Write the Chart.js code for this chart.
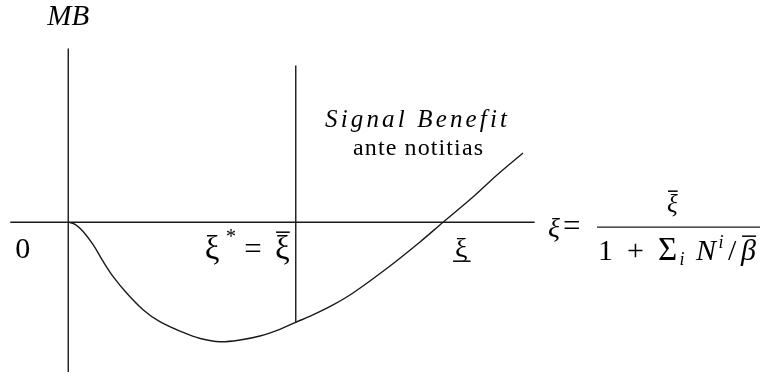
<!DOCTYPE html>
<html>
<head>
<meta charset="utf-8">
<script src="https://cdn.jsdelivr.net/npm/chart.js@4"></script>
<style>
  html, body { margin: 0; padding: 0; background: #fff; }
  #chart { display: block; }
</style>
</head>
<body>
<canvas id="chart" width="765" height="376"></canvas>

<script>
  // curve: marginal benefit against the signal precision xi
  const xiValues = [0, 0.12, 0.265, 0.44, 0.616, 0.79, 1.03, 1.32, 1.61, 2.02, 2.32, 2.67, 3.02, 3.37, 3.72, 4.0, 4.30, 4.655, 5.006, 5.657, 6.184, 6.59, 7.116, 7.538, 7.995];
  const mbValues = [0, -0.037, -0.167, -0.40, -0.693, -0.956, -1.248, -1.541, -1.747, -1.936, -2.041, -2.098, -2.068, -1.998, -1.88, -1.757, -1.629, -1.453, -1.243, -0.769, -0.348, 0, 0.442, 0.829, 1.215];

  // axes and the xi-bar marker
  const xAxisX = [-1.02, 8.2];
  const xAxisY = [0, 0];
  const yAxisX = [0, 0];
  const yAxisY = [3.05, -2.63];
  const xiBar = 4.0;
  const xiBarY = [2.75, -1.757];

  const toPoints = (xs, ys) => xs.map((x, i) => ({ x: x, y: ys[i] }));
  const ink = '#1a1a1a';
  const SERIF = '"Liberation Serif", "Times New Roman", serif';

  function lineSet(points, tension) {
    return {
      data: points,
      borderColor: ink,
      borderWidth: 1.4,
      pointRadius: 0,
      tension: tension || 0,
      fill: false
    };
  }

  // one piece per character, with room between them
  function spaced(text, font, gap) {
    return text.split('').map((c, i) => ({ t: c, font: font, gap: i ? gap : 0 }));
  }

  // draws a run of text pieces; spare width goes into the gaps (no stretching)
  function drawRun(ctx, x, base, width, pieces) {
    ctx.save();
    let total = 0;
    let gapSum = 0;
    pieces.forEach((p) => {
      ctx.font = p.font + ' ' + SERIF;
      p.w = ctx.measureText(p.t).width;
      total += (p.gap || 0) + p.w;
      gapSum += p.gap || 0;
    });
    const k = gapSum > 0 ? (width - total) / gapSum : 0;
    ctx.fillStyle = '#000';
    ctx.strokeStyle = '#000';
    ctx.lineWidth = 1.5;
    let cx = x;
    pieces.forEach((p) => {
      cx += (p.gap || 0) * (1 + k);
      ctx.font = p.font + ' ' + SERIF;
      ctx.fillText(p.t, cx, base + (p.dy || 0));
      if (p.over != null) {
        ctx.beginPath();
        ctx.moveTo(cx + 1, base + p.over);
        ctx.lineTo(cx + p.w, base + p.over);
        ctx.stroke();
      }
      if (p.under != null) {
        ctx.beginPath();
        ctx.moveTo(cx - 2, base + p.under);
        ctx.lineTo(cx + p.w + 3, base + p.under);
        ctx.stroke();
      }
      cx += p.w;
    });
    ctx.restore();
  }

  const labelPlugin = {
    id: 'diagramLabels',
    afterDraw(chart) {
      const ctx = chart.ctx;
      const ox = chart.scales.x.getPixelForValue(0);
      const oy = chart.scales.y.getPixelForValue(0);
      const bx = chart.scales.x.getPixelForValue(xiBar);

      drawRun(ctx, ox - 21, 25, 44, [{ t: 'MB', font: 'italic 29px' }]);
      drawRun(ctx, ox - 53, oy + 36, 17, [{ t: '0', font: '30px' }]);

      drawRun(ctx, bx - 91, oy + 37, 85, [
        { t: 'ξ', font: '33px' },
        { t: '*', font: '20px', gap: 4, dy: -16 },
        { t: '=', font: '31px', gap: 5 },
        { t: 'ξ', font: '33px', gap: 8, over: -27 }
      ]);
      drawRun(ctx, chart.scales.x.getPixelForValue(6.59) + 12, oy + 35, 16, [
        { t: 'ξ', font: '28px', under: 4 }
      ]);

      drawRun(ctx, 325, 127, 182, spaced('Signal Benefit', 'italic 25px', 2));
      drawRun(ctx, 353, 155, 130, spaced('ante notitias', '24px', 1));

      // xi = xi-bar / (1 + sum_i N^i / beta-bar)
      drawRun(ctx, 548, oy + 15, 12, [{ t: 'ξ', font: 'italic 28px' }]);
      drawRun(ctx, 563, oy + 14, 20, [{ t: '=', font: '31px' }]);
      drawRun(ctx, 667, oy - 10, 16, [{ t: 'ξ', font: 'italic 25px', over: -21 }]);
      ctx.save();
      ctx.strokeStyle = ink;
      ctx.lineWidth = 1.3;
      ctx.beginPath();
      ctx.moveTo(597, oy + 5);
      ctx.lineTo(760, oy + 5);
      ctx.stroke();
      ctx.restore();
      drawRun(ctx, 598, oy + 38, 158, [
        { t: '1', font: '30px' },
        { t: '+', font: '30px', gap: 6 },
        { t: 'Σ', font: '33px', gap: 6 },
        { t: 'i', font: 'italic 18px', gap: 1, dy: 5 },
        { t: 'N', font: 'italic 30px', gap: 5 },
        { t: 'i', font: 'italic 18px', gap: 1, dy: -12 },
        { t: '/', font: '30px', gap: 2 },
        { t: 'β', font: 'italic 30px', gap: 2, over: -24 }
      ]);
    }
  };

  new Chart(document.getElementById('chart').getContext('2d'), {
    type: 'line',
    data: {
      datasets: [
        lineSet(toPoints(xAxisX, xAxisY)),
        lineSet(toPoints(yAxisX, yAxisY)),
        lineSet(toPoints([xiBar, xiBar], xiBarY)),
        lineSet(toPoints(xiValues, mbValues), 0.35)
      ]
    },
    options: {
      responsive: false,
      animation: false,
      layout: { padding: 0 },
      plugins: { legend: { display: false }, tooltip: { enabled: false } },
      scales: {
        x: { type: 'linear', min: -1.2, max: 12.25, display: false },
        y: { type: 'linear', min: -2.7, max: 3.9, display: false }
      }
    },
    plugins: [labelPlugin]
  });
</script>
</body>
</html>
